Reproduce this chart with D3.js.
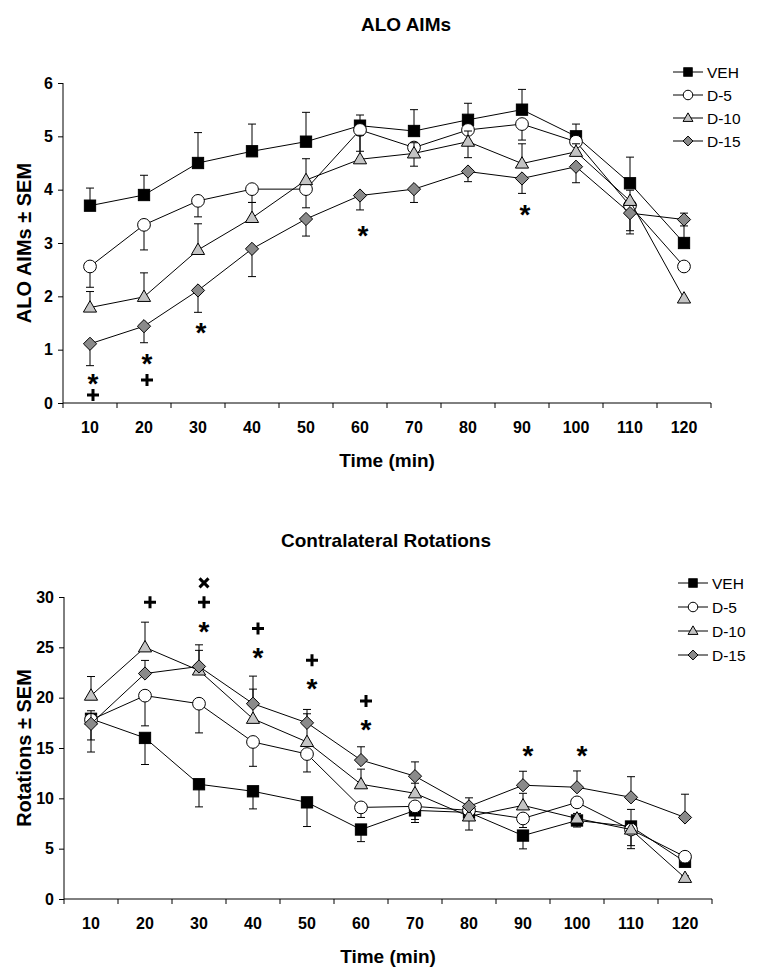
<!DOCTYPE html>
<html><head><meta charset="utf-8">
<script src="https://cdn.jsdelivr.net/npm/d3@7"></script>
<style>body{margin:0;background:#fff}svg{display:block;font-family:"Liberation Sans",Arial,sans-serif}</style>
</head><body>
<svg id="c" width="764" height="980"></svg>
<script>
const categories = ["10","20","30","40","50","60","70","80","90","100","110","120"];
const seriesNames = ["VEH","D-5","D-10","D-15"];

// ALO AIMs (top)
const aimsVEH  = [3.70,3.90,4.50,4.72,4.90,5.20,5.10,5.31,5.50,5.00,4.12,3.00];
const aimsD5   = [2.56,3.34,3.79,4.01,4.01,5.12,4.79,5.12,5.23,4.90,3.70,2.56];
const aimsD10  = [1.79,1.99,2.87,3.47,4.18,4.57,4.68,4.90,4.49,4.71,3.79,1.96];
const aimsD15  = [1.11,1.44,2.11,2.89,3.45,3.89,4.01,4.34,4.21,4.43,3.56,3.44];
const aimsErrVEH = [0.33,0.37,0.57,0.51,0.55,0.20,0.40,0.31,0.38,0.23,0.49,0.56];
const aimsErrD5  = [0.39,0.47,0.30,0.25,0.35,0.40,0.35,0.52,0.30,0.20,0.47,0.00];
const aimsErrD10 = [0.30,0.45,0.49,0.29,0.40,0.45,0.20,0.20,0.37,0.15,0.20,0.00];
const aimsErrD15 = [0.41,0.31,0.41,0.52,0.32,0.27,0.25,0.19,0.28,0.30,0.39,0.12];
const aimsErrDir = [1,-1,1,-1]; // 1 = up, -1 = down
const aimsTicks = [0,1,2,3,4,5,6];
const aimsMarks = [
  {x:"10",y:0.46,s:"*"},{x:"10",y:0.15,s:"+"},
  {x:"20",y:0.84,s:"*"},{x:"20",y:0.43,s:"+"},
  {x:"30",y:1.42,s:"*"},{x:"60",y:3.24,s:"*"},{x:"90",y:3.63,s:"*"}
];

// Contralateral Rotations (bottom)
const rotVEH = [17.9,16.0,11.4,10.7,9.6,6.9,8.8,8.6,6.3,7.8,7.2,3.7];
const rotD5  = [17.8,20.2,19.4,15.6,14.4,9.1,9.2,8.8,8.0,9.6,6.9,4.2];
const rotD10 = [20.2,25.0,22.7,17.9,15.6,11.4,10.5,8.2,9.3,8.0,6.9,2.1];
const rotD15 = [17.4,22.4,23.1,19.4,17.5,13.8,12.2,9.2,11.3,11.1,10.1,8.1];
const rotErrVEH = [2.1,2.64,2.25,1.75,2.4,1.2,1.2,1.75,1.32,0.65,2.2,0.3];
const rotErrD5  = [3.2,3.0,2.9,2.42,1.78,1.0,1.3,0.6,0.9,0.5,1.6,0.3];
const rotErrD10 = [1.9,2.5,2.0,2.95,2.8,1.5,1.0,0.8,1.2,0.5,2.0,0.2];
const rotErrD15 = [1.3,1.3,2.15,2.74,1.33,1.32,1.42,0.85,1.39,1.62,2.05,2.31];
const rotErrDir = [-1,-1,1,1];
const rotTicks = [0,5,10,15,20,25,30];
const rotMarks = [
  {x:"20",y:29.49,s:"+"},
  {x:"30",y:31.4,s:"x"},{x:"30",y:29.49,s:"+"},{x:"30",y:27.09,s:"*"},
  {x:"40",y:26.86,s:"+"},{x:"40",y:24.54,s:"*"},
  {x:"50",y:23.72,s:"+"},{x:"50",y:21.41,s:"*"},
  {x:"60",y:19.68,s:"+"},{x:"60",y:17.37,s:"*"},
  {x:"90",y:14.8,s:"*"},{x:"100",y:14.8,s:"*"}
];

const svg = d3.select("#c");
const styles = [
  {shape:"square", fill:"#000"},
  {shape:"circle", fill:"#fff"},
  {shape:"triangle", fill:"#c4c4c4"},
  {shape:"diamond", fill:"#8a8a8a"}
];

function drawMarker(g, shape, fill, cx, cy, s) {
  if (shape === "square") {
    g.append("rect").attr("x", cx - s*0.47).attr("y", cy - s*0.47).attr("width", s*0.94).attr("height", s*0.94)
      .attr("fill", fill).attr("stroke", "#000").attr("stroke-width", 1);
  } else if (shape === "circle") {
    g.append("circle").attr("cx", cx).attr("cy", cy).attr("r", s*0.53).attr("fill", fill).attr("stroke", "#000").attr("stroke-width", 1);
  } else if (shape === "triangle") {
    const h = s*0.95, w = s*0.55;
    g.append("path").attr("d", `M${cx},${cy - h*0.6}L${cx + w},${cy + h*0.4}L${cx - w},${cy + h*0.4}Z`)
      .attr("fill", fill).attr("stroke", "#000").attr("stroke-width", 1);
  } else {
    const r = s*0.55;
    g.append("path").attr("d", `M${cx},${cy - r}L${cx + r},${cy}L${cx},${cy + r}L${cx - r},${cy}Z`)
      .attr("fill", fill).attr("stroke", "#000").attr("stroke-width", 1);
  }
}

function drawSig(g, s, cx, cy) {
  if (s === "*") {
    g.append("text").attr("x", cx).attr("y", cy + 15).attr("text-anchor", "middle")
      .attr("font-size", 28).attr("font-weight", "bold").attr("fill", "#000").text("*");
  } else if (s === "+") {
    g.append("path").attr("d", `M${cx - 6},${cy}H${cx + 6}M${cx},${cy - 6}V${cy + 6}`)
      .attr("stroke", "#000").attr("stroke-width", 3).attr("fill", "none");
  } else {
    g.append("path").attr("d", `M${cx - 4.5},${cy - 4.5}L${cx + 4.5},${cy + 4.5}M${cx + 4.5},${cy - 4.5}L${cx - 4.5},${cy + 4.5}`)
      .attr("stroke", "#000").attr("stroke-width", 3).attr("fill", "none");
  }
}

function chart(cfg) {
  const x = d3.scaleBand().domain(categories).range([cfg.x0, cfg.x1]).padding(0);
  const y = d3.scaleLinear().domain([cfg.ticks[0], cfg.ticks[cfg.ticks.length - 1]]).range([cfg.yb, cfg.yt]);
  const g = svg.append("g");
  const cx = c => x(c) + x.bandwidth()/2;

  g.append("text").attr("x", cfg.titleX).attr("y", cfg.titleY).attr("text-anchor", "middle")
    .attr("font-size", 19).attr("font-weight", "bold").text(cfg.title);

  const ya = g.append("g").attr("transform", `translate(${cfg.x0},0)`)
    .call(d3.axisLeft(y).tickValues(cfg.ticks).tickSize(5).tickPadding(5).tickFormat(d3.format("d")));
  ya.select(".domain").attr("d", `M0,${y(cfg.ticks[0])}V${y(cfg.ticks[cfg.ticks.length-1])}`).attr("stroke", "#000");
  ya.selectAll("text").attr("font-size", 16).attr("font-weight", "bold").attr("fill", "#000").attr("font-family", "Liberation Sans, Arial, sans-serif");
  ya.selectAll("line").attr("stroke", "#000");

  const xa = g.append("g").attr("transform", `translate(0,${cfg.yb})`)
    .call(d3.axisBottom(x).tickSize(0).tickPadding(19));
  xa.select(".domain").attr("d", `M${cfg.x0},0H${cfg.x1}`).attr("stroke", "#000");
  xa.selectAll("text").attr("font-size", 16).attr("font-weight", "bold").attr("fill", "#000").attr("font-family", "Liberation Sans, Arial, sans-serif");
  const bounds = categories.map(c => x(c)).concat([cfg.x1]);
  g.selectAll(".bt").data(bounds).enter().append("line")
    .attr("x1", d => d).attr("x2", d => d).attr("y1", cfg.yb).attr("y2", cfg.yb + 5).attr("stroke", "#000");

  g.append("text").attr("x", (cfg.x0 + cfg.x1)/2).attr("y", cfg.xTitleY).attr("text-anchor", "middle")
    .attr("font-size", 19).attr("font-weight", "bold").text("Time (min)");
  g.append("text").attr("transform", `translate(${cfg.yTitleX},${(cfg.yt + cfg.yb)/2}) rotate(-90)`)
    .attr("text-anchor", "middle").attr("font-size", 20).attr("font-weight", "bold").text(cfg.yTitle);

  cfg.series.forEach((vals, i) => {
    const sg = g.append("g");
    const errs = cfg.errs[i], dir = cfg.dirs[i];
    vals.forEach((v, k) => {
      if (errs[k] <= 0) return;
      const px = cx(categories[k]);
      const e = v + dir * errs[k];
      sg.append("line").attr("x1", px).attr("x2", px).attr("y1", y(v)).attr("y2", y(e)).attr("stroke", "#000");
      sg.append("line").attr("x1", px - 4).attr("x2", px + 4).attr("y1", y(e)).attr("y2", y(e)).attr("stroke", "#000");
    });
    const line = d3.line().x((d, k) => cx(categories[k])).y(d => y(d));
    sg.append("path").attr("d", line(vals)).attr("fill", "none").attr("stroke", "#000").attr("stroke-width", 1);
    vals.forEach((v, k) => drawMarker(sg, styles[i].shape, styles[i].fill, cx(categories[k]), y(v), 12));
  });

  cfg.marks.forEach(m => drawSig(g, m.s, cx(m.x) + cfg.markDx, y(m.y)));

  seriesNames.forEach((n, i) => {
    const ly = cfg.legY + i * cfg.legStep;
    g.append("line").attr("x1", cfg.legX).attr("x2", cfg.legX + 30).attr("y1", ly).attr("y2", ly).attr("stroke", "#000");
    drawMarker(g, styles[i].shape, styles[i].fill, cfg.legX + 15, ly, 9);
    g.append("text").attr("x", cfg.legX + 34).attr("y", ly + 5.5).attr("font-size", 15.5).text(n);
  });
}

chart({
  title: "ALO AIMs", titleX: 406, titleY: 31,
  x0: 63, x1: 711, yt: 83, yb: 403, ticks: aimsTicks,
  xTitleY: 467, yTitleX: 31, yTitle: "ALO AIMs \u00b1 SEM",
  series: [aimsVEH, aimsD5, aimsD10, aimsD15],
  errs: [aimsErrVEH, aimsErrD5, aimsErrD10, aimsErrD15], dirs: aimsErrDir,
  marks: aimsMarks, markDx: 3,
  legX: 673, legY: 72, legStep: 23
});
chart({
  title: "Contralateral Rotations", titleX: 386, titleY: 547,
  x0: 64, x1: 712, yt: 597, yb: 899, ticks: rotTicks,
  xTitleY: 963, yTitleX: 31, yTitle: "Rotations \u00b1 SEM",
  series: [rotVEH, rotD5, rotD10, rotD15],
  errs: [rotErrVEH, rotErrD5, rotErrD10, rotErrD15], dirs: rotErrDir,
  marks: rotMarks, markDx: 5,
  legX: 678, legY: 583, legStep: 24
});
</script>
</body></html>
